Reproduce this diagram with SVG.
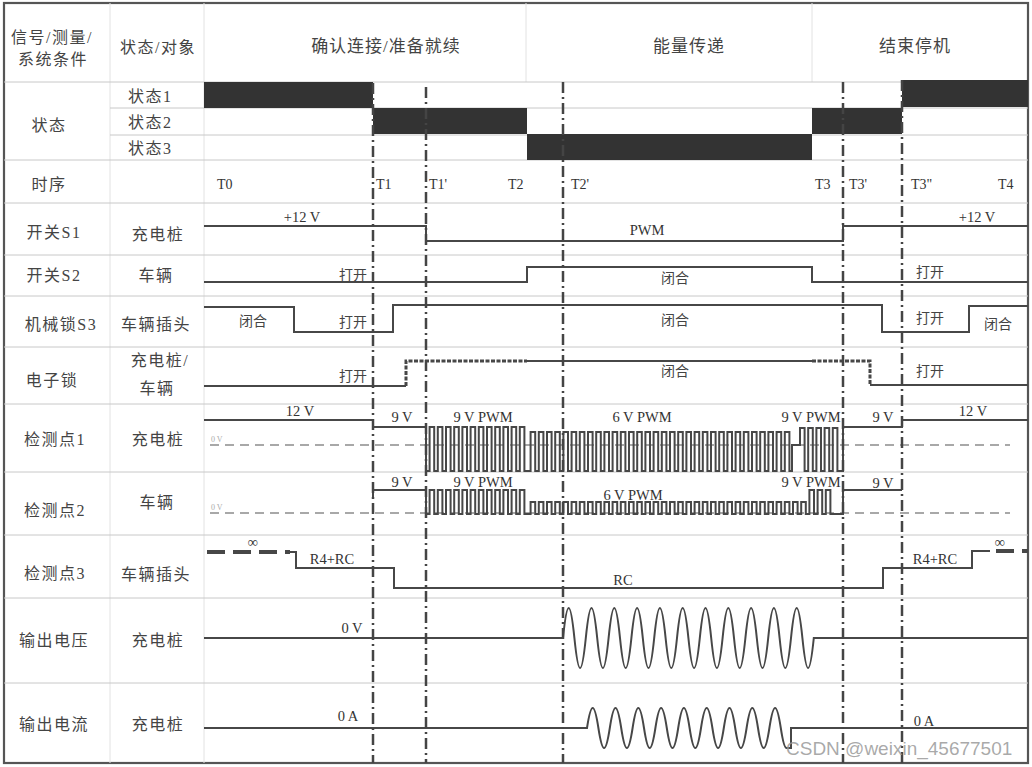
<svg xmlns="http://www.w3.org/2000/svg" width="1032" height="767" viewBox="0 0 1032 767">
<style>
.grid{stroke:#c8c8c8;stroke-width:1;fill:none}
.vgrid{stroke:#e2e2e2;stroke-width:1;fill:none}
.sig{stroke:#474747;stroke-width:2;fill:none;stroke-linejoin:miter}
.bar{fill:#333}
.dd{stroke:#444;stroke-width:2.5;fill:none;stroke-dasharray:11 4 2 4}
.zero{stroke:#a8a8a8;stroke-width:1.8;fill:none;stroke-dasharray:9 6}
.dot{stroke:#474747;stroke-width:3;fill:none;stroke-dasharray:4 1.5}
.inf{stroke:#474747;stroke-width:4;fill:none;stroke-dasharray:18 8}
.cj{font-family:"Liberation Serif","Noto Sans CJK SC",serif;font-size:16px;fill:#444;letter-spacing:1.5px}
.hd{font-family:"Liberation Serif","Noto Sans CJK SC",serif;font-size:17px;fill:#444;letter-spacing:1px;text-anchor:middle}
.lb{font-family:"Liberation Serif","Noto Sans CJK SC",serif;font-size:14px;fill:#444;text-anchor:middle}
.val{font-family:"Liberation Serif",serif;font-size:14.5px;fill:#333;text-anchor:middle}
.t{font-family:"Liberation Serif",serif;font-size:14px;fill:#333}
.sm{font-family:"Liberation Serif",serif;font-size:8px;fill:#aaa}
.m{text-anchor:middle}
</style>

<g id="frame">
<rect x="4" y="3" width="1024" height="760" fill="#fff" stroke="#555" stroke-width="2.2"/>
<path class="vgrid" d="M110,3V763M204,3V763M526,3V82M812,3V82"/>
<path class="grid" d="M4,82H1028M110,108H1028M110,135H1028M4,160H1028M4,203H1028M4,255H1028M4,296H1028M4,347H1028M4,404H1028M4,472H1028M4,535H1028M4,598H1028M4,683H1028"/>
</g>

<g id="header">
<text class="cj m" x="52" y="43">信号/测量/</text>
<text class="cj m" x="53" y="65">系统条件</text>
<text class="cj m" x="158" y="53">状态/对象</text>
<text class="hd" x="386" y="52">确认连接/准备就续</text>
<text class="hd" x="689" y="52">能量传递</text>
<text class="hd" x="915" y="52">结束停机</text>
</g>

<g id="row-state">
<text class="cj m" x="49" y="131">状态</text>
<text class="cj" x="128" y="102">状态1</text>
<text class="cj" x="128" y="128">状态2</text>
<text class="cj" x="128" y="154">状态3</text>
<rect class="bar" x="204" y="82" width="169" height="26"/>
<rect class="bar" x="373" y="108" width="154" height="26"/>
<rect class="bar" x="527" y="134" width="285" height="26"/>
<rect class="bar" x="812" y="108" width="90" height="26"/>
<rect class="bar" x="902" y="80" width="126" height="27"/>
</g>

<g id="row-timing">
<text class="cj m" x="49" y="190">时序</text>
<text class="t" x="217" y="189">T0</text>
<text class="t" x="376" y="189">T1</text>
<text class="t" x="429" y="189">T1'</text>
<text class="t" x="508" y="189">T2</text>
<text class="t" x="571" y="189">T2'</text>
<text class="t" x="815" y="189">T3</text>
<text class="t" x="849" y="189">T3'</text>
<text class="t" x="911" y="189">T3"</text>
<text class="t" x="998" y="189">T4</text>
</g>

<g id="row-s1">
<text class="cj m" x="54" y="238">开关S1</text>
<text class="cj m" x="158" y="240">充电桩</text>
<path class="sig" d="M204,226H426V241H843V226H1028"/>
<text class="val" x="302" y="222">+12 V</text>
<text class="val" x="647" y="235">PWM</text>
<text class="val" x="977" y="222">+12 V</text>
</g>

<g id="row-s2">
<text class="cj m" x="54" y="281">开关S2</text>
<text class="cj m" x="156" y="281">车辆</text>
<path class="sig" d="M204,282H527V267H812V282H1028"/>
<text class="lb" x="353" y="280">打开</text>
<text class="lb" x="675" y="283">闭合</text>
<text class="lb" x="930" y="277">打开</text>
</g>

<g id="row-s3">
<text class="cj m" x="61" y="330">机械锁S3</text>
<text class="cj m" x="156" y="330">车辆插头</text>
<path class="sig" d="M204,307H294V332H393V305H882V332H969V306H1028"/>
<text class="lb" x="253" y="326">闭合</text>
<text class="lb" x="353" y="327">打开</text>
<text class="lb" x="675" y="325">闭合</text>
<text class="lb" x="930" y="323">打开</text>
<text class="lb" x="998" y="329">闭合</text>
</g>

<g id="row-elock">
<text class="cj m" x="52" y="386">电子锁</text>
<text class="cj m" x="160" y="366">充电桩/</text>
<text class="cj m" x="157" y="394">车辆</text>
<path class="sig" d="M204,386H406"/>
<path class="dot" d="M406,386V361H527"/>
<path class="sig" d="M527,361H812"/>
<path class="dot" d="M812,361H870V385"/>
<path class="sig" d="M870,385H1028"/>
<text class="lb" x="353" y="381">打开</text>
<text class="lb" x="675" y="376">闭合</text>
<text class="lb" x="930" y="376">打开</text>
</g>

<g id="row-cp1">
<text class="cj m" x="55" y="445">检测点1</text>
<text class="cj m" x="158" y="445">充电桩</text>
<path class="zero" d="M210,445H1010"/>
<text class="sm" x="211" y="442">0 V</text>
<path class="sig" stroke-width="1.8" d="M204,420H373V427H426V471h3.6v-44h4.6v44h3.6v-44h4.6v44h3.6v-44h4.6v44h3.6v-44h4.6v44h3.6v-44h4.6v44h3.6v-44h4.6v44h3.6v-44h4.6v44h3.6v-44h4.6v44h3.6v-44h4.6v44h3.6v-44h4.6v44h3.6v-44h4.6v44h3.6v-44h4.6v44h2.6h3.6v-39h4.6v39h3.6v-39h4.6v39h3.6v-39h4.6v39h3.6v-39h4.6v39h3.6v-39h4.6v39h3.6v-39h4.6v39h3.6v-39h4.6v39h3.6v-39h4.6v39h3.6v-39h4.6v39h3.6v-39h4.6v39h3.6v-39h4.6v39h3.6v-39h4.6v39h3.6v-39h4.6v39h3.6v-39h4.6v39h3.6v-39h4.6v39h3.6v-39h4.6v39h3.6v-39h4.6v39h3.6v-39h4.6v39h3.6v-39h4.6v39h3.6v-39h4.6v39h3.6v-39h4.6v39h3.6v-39h4.6v39h3.6v-39h4.6v39h3.6v-39h4.6v39h3.6v-39h4.6v39h3.6v-39h4.6v39h3.6v-39h4.6v39h3.6v-39h4.6v39h3.6v-39h4.6v39h3.6v-39h4.6v39h3.6v-39h4.6v39h3.6v-39h4.6v39h2.6V445h8V428h4.6V471h3.6v-43h4.6v43h3.6v-43h4.6v43h3.6v-43h4.6v43h3.6v-43h4.6v43H843V427H902V420H1028"/>
<text class="val" x="300" y="416">12 V</text>
<text class="val" x="402" y="422">9 V</text>
<text class="val" x="483" y="422">9 V PWM</text>
<text class="val" x="642" y="422">6 V PWM</text>
<text class="val" x="811" y="422">9 V PWM</text>
<text class="val" x="883" y="422">9 V</text>
<text class="val" x="973" y="416">12 V</text>
</g>

<g id="row-cp2">
<text class="cj m" x="55" y="516">检测点2</text>
<text class="cj m" x="157" y="508">车辆</text>
<path class="zero" d="M210,513H1010"/>
<text class="sm" x="211" y="510">0 V</text>
<path class="sig" stroke-width="1.8" d="M373,484V497M373,490H426V514h3.6v-24h4.6v24h3.6v-24h4.6v24h3.6v-24h4.6v24h3.6v-24h4.6v24h3.6v-24h4.6v24h3.6v-24h4.6v24h3.6v-24h4.6v24h3.6v-24h4.6v24h3.6v-24h4.6v24h3.6v-24h4.6v24h3.6v-24h4.6v24h3.6v-24h4.6v24h2.6h3.6v-12h4.6v12h3.6v-12h4.6v12h3.6v-12h4.6v12h3.6v-12h4.6v12h3.6v-12h4.6v12h3.6v-12h4.6v12h3.6v-12h4.6v12h3.6v-12h4.6v12h3.6v-12h4.6v12h3.6v-12h4.6v12h3.6v-12h4.6v12h3.6v-12h4.6v12h3.6v-12h4.6v12h3.6v-12h4.6v12h3.6v-12h4.6v12h3.6v-12h4.6v12h3.6v-12h4.6v12h3.6v-12h4.6v12h3.6v-12h4.6v12h3.6v-12h4.6v12h3.6v-12h4.6v12h3.6v-12h4.6v12h3.6v-12h4.6v12h3.6v-12h4.6v12h3.6v-12h4.6v12h3.6v-12h4.6v12h3.6v-12h4.6v12h3.6v-12h4.6v12h3.6v-12h4.6v12h3.6v-12h4.6v12h3.6v-12h4.6v12h3.6v-12h4.6v12h3.6v-12h4.6v12h3.6v-12h4.6v12h3.6v-24h4.6v24h3.6v-24h4.6v24h3.6v-24h4.6v24H843V490H902"/>
<text class="val" x="402" y="487">9 V</text>
<text class="val" x="483" y="487">9 V PWM</text>
<text class="val" x="633" y="500">6 V PWM</text>
<text class="val" x="811" y="487">9 V PWM</text>
<text class="val" x="883" y="488">9 V</text>
</g>

<g id="row-cp3">
<text class="cj m" x="55" y="579">检测点3</text>
<text class="cj m" x="156" y="580">车辆插头</text>
<path class="inf" d="M207,552H290"/>
<path class="sig" d="M287,552H296V568H394V588H883V568H972V551H990"/>
<path class="inf" d="M996,551H1028"/>
<text class="val" x="253" y="547">∞</text>
<text class="val" x="332" y="564">R4+RC</text>
<text class="val" x="623" y="585">RC</text>
<text class="val" x="935" y="564">R4+RC</text>
<text class="val" x="1000" y="547">∞</text>
</g>

<g id="row-vout">
<text class="cj m" x="54" y="646">输出电压</text>
<text class="cj m" x="158" y="646">充电桩</text>
<path class="sig" d="M204,638H563c4.1,-40 7.3,-40 11.4,0c4.1,40 7.3,40 11.4,0c4.1,-40 7.3,-40 11.4,0c4.1,40 7.3,40 11.4,0c4.1,-40 7.3,-40 11.4,0c4.1,40 7.3,40 11.4,0c4.1,-40 7.3,-40 11.4,0c4.1,40 7.3,40 11.4,0c4.1,-40 7.3,-40 11.4,0c4.1,40 7.3,40 11.4,0c4.1,-40 7.3,-40 11.4,0c4.1,40 7.3,40 11.4,0c4.1,-40 7.3,-40 11.4,0c4.1,40 7.3,40 11.4,0c4.1,-40 7.3,-40 11.4,0c4.1,40 7.3,40 11.4,0c4.1,-40 7.3,-40 11.4,0c4.1,40 7.3,40 11.4,0c4.1,-40 7.3,-40 11.4,0c4.1,40 7.3,40 11.4,0c4.1,-40 7.3,-40 11.4,0c4.1,40 7.3,40 11.4,0H1028"/>
<text class="val" x="352" y="633">0 V</text>
</g>

<g id="row-iout">
<text class="cj m" x="54" y="730">输出电流</text>
<text class="cj m" x="158" y="730">充电桩</text>
<path class="sig" d="M204,728H587c4.1,-26.7 7.3,-26.7 11.4,0c4.1,26.7 7.3,26.7 11.4,0c4.1,-26.7 7.3,-26.7 11.4,0c4.1,26.7 7.3,26.7 11.4,0c4.1,-26.7 7.3,-26.7 11.4,0c4.1,26.7 7.3,26.7 11.4,0c4.1,-26.7 7.3,-26.7 11.4,0c4.1,26.7 7.3,26.7 11.4,0c4.1,-26.7 7.3,-26.7 11.4,0c4.1,26.7 7.3,26.7 11.4,0c4.1,-26.7 7.3,-26.7 11.4,0c4.1,26.7 7.3,26.7 11.4,0c4.1,-26.7 7.3,-26.7 11.4,0c4.1,26.7 7.3,26.7 11.4,0c4.1,-26.7 7.3,-26.7 11.4,0c4.1,26.7 7.3,26.7 11.4,0c4.1,-26.7 7.3,-26.7 11.4,0c2,13.3 4,20 5.7,20H791V728H1028"/>
<text class="val" x="348" y="721">0 A</text>
<text class="val" x="924" y="726">0 A</text>
</g>

<g id="connectors">
<path class="dd" d="M373,83V763"/>
<path class="dd" d="M426,87V763"/>
<path class="dd" d="M563,82V763"/>
<path class="dd" d="M843,82V763"/>
<path class="dd" d="M902,80V763"/>
</g>

<text x="786" y="755" font-family="Liberation Sans, sans-serif" font-size="19" fill="#9a9a9a" fill-opacity="0.85">CSDN @weixin_45677501</text>
</svg>
